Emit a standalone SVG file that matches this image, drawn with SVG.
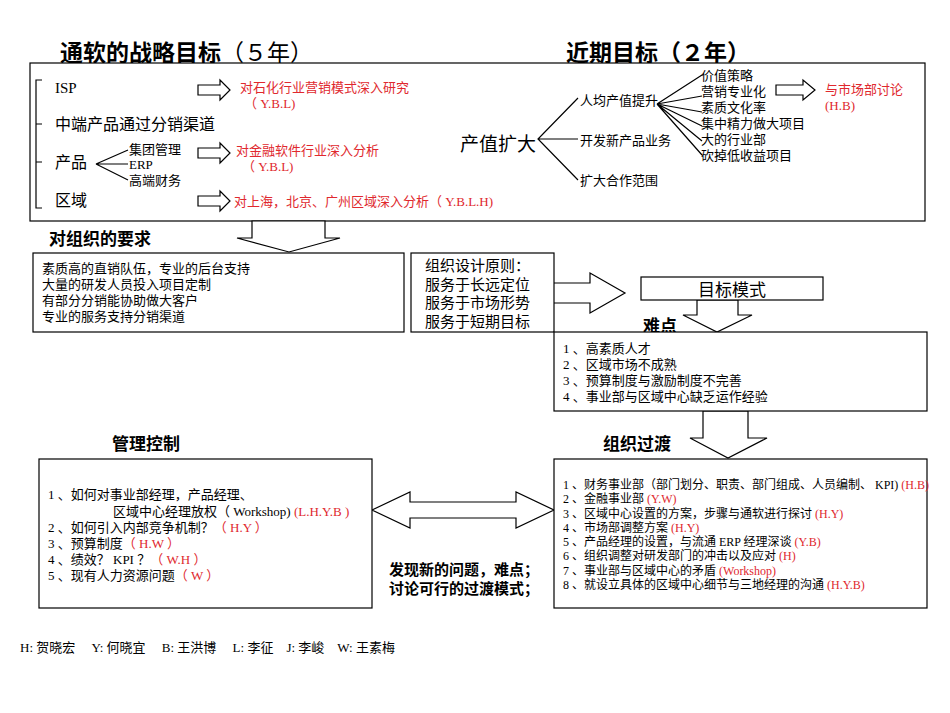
<svg xmlns="http://www.w3.org/2000/svg" width="950" height="713" viewBox="0 0 950 713">
<style>
text{font-family:"Liberation Serif","Noto Sans CJK SC",serif;fill:#000}
.t{font-family:"Liberation Sans","Noto Sans CJK SC",sans-serif;font-weight:bold}
.r{fill:#e0282e}
.s13{font-size:13px}.s14{font-size:14px}.s15{font-size:15px}
.box{fill:#fff;stroke:#000;stroke-width:1.2}
.ln{stroke:#000;stroke-width:1.2;fill:none}
.ar{fill:#fff;stroke:#000;stroke-width:1.2}
</style>
<rect width="950" height="713" fill="#fff"/>
<g id="titles">
<text x="60" y="61" class="t" font-size="23">通软的战略目标<tspan font-weight="normal">（５年）</tspan></text>
<text x="566" y="61" class="t" font-size="23">近期目标（２年）</text>
</g>
<g id="top">
<rect class="box" x="30" y="63" width="895" height="158"/>
<path class="ln" d="M42,80H36V208H42M36,124H42M36,162H42"/>
<text x="55" y="93" class="s15">ISP</text>
<text x="55" y="130" font-size="16">中端产品通过分销渠道</text>
<text x="55" y="168" font-size="16">产品</text>
<text x="55" y="206" font-size="16">区域</text>
<path class="ln" d="M128,150L96,164L128,164M96,164L128,180"/>
<text x="129" y="154" class="s13">集团管理</text>
<text x="129" y="169" class="s13">ERP</text>
<text x="129" y="185" class="s13">高端财务</text>
<path class="ar" d="M198,85H220V80L230,90L220,100V95H198Z"/>
<path class="ar" d="M198,148H220V143L230,153L220,163V158H198Z"/>
<path class="ar" d="M198,196H220V191L230,201L220,211V206H198Z"/>
<text x="240" y="92" class="s13 r">对石化行业营销模式深入研究</text>
<text x="244" y="108" class="s13 r">（ Y.B.L)</text>
<text x="236" y="155" class="s13 r">对金融软件行业深入分析</text>
<text x="242" y="171" class="s13 r">（ Y.B.L)</text>
<text x="234" y="206" class="s13 r">对上海，北京、广州区域深入分析（ Y.B.L.H)</text>
<text x="460" y="151" font-size="19">产值扩大</text>
<path class="ln" d="M578,98L538,139L578,180M538,139H578"/>
<text x="580" y="105" class="s13">人均产值提升</text>
<text x="580" y="145" class="s13">开发新产品业务</text>
<text x="580" y="185" class="s13">扩大合作范围</text>
<path class="ln" d="M657,104L702,75M657,104L702,96M657,104L702,112M657,104L702,126M657,104L702,141M657,104L702,155"/>
<text x="701" y="80" class="s13">价值策略</text>
<text x="701" y="96" class="s13">营销专业化</text>
<text x="701" y="112" class="s13">素质文化率</text>
<text x="701" y="128" class="s13">集中精力做大项目</text>
<text x="701" y="144" class="s13">大的行业部</text>
<text x="701" y="160" class="s13">砍掉低收益项目</text>
<path class="ar" d="M776,85H803V80L815,90L803,100V95H776Z"/>
<text x="825" y="94" class="s13 r">与市场部讨论</text>
<text x="825" y="110" class="s13 r">(H.B)</text>
</g>
<g id="connectors">
<path class="ar" d="M252,221H325V238H340L289,252L237,238H252Z"/>
<path class="ar" d="M530,283H590V273L625,293L590,313V303H530Z"/>
<path class="ar" d="M697,300H738V315H752L717,332L683,315H697Z"/>
<path class="ar" d="M703,411H748V438H767L728,458L690,438H703Z"/>
<path class="ar" d="M372,510L410,492V502H516V492L554,510L516,528V518H410V528Z"/>
</g>
<g id="req">
<text x="49" y="245" class="t" font-size="17">对组织的要求</text>
<rect class="box" x="33" y="253" width="371" height="79"/>
<text x="42" y="273" class="s13">素质高的直销队伍，专业的后台支持</text>
<text x="42" y="289" class="s13">大量的研发人员投入项目定制</text>
<text x="42" y="305" class="s13">有部分分销能协助做大客户</text>
<text x="42" y="321" class="s13">专业的服务支持分销渠道</text>
</g>
<g id="principle">
<rect class="box" x="411" y="253" width="143" height="79"/>
<text x="425" y="271" class="s15">组织设计原则：</text>
<text x="425" y="290" class="s15">服务于长远定位</text>
<text x="425" y="308" class="s15">服务于市场形势</text>
<text x="425" y="327" class="s15">服务于短期目标</text>
</g>
<g id="mode">
<rect class="box" x="641" y="277" width="182" height="23"/>
<text x="732" y="296" font-size="17" text-anchor="middle">目标模式</text>
</g>
<g id="difficulty">
<text x="643" y="332" class="t" font-size="17">难点</text>
<rect class="box" x="554" y="332" width="373" height="79"/>
<text x="563" y="353" class="s13">1 、高素质人才</text>
<text x="563" y="369" class="s13">2 、区域市场不成熟</text>
<text x="563" y="385" class="s13">3 、预算制度与激励制度不完善</text>
<text x="563" y="401" class="s13">4 、事业部与区域中心缺乏运作经验</text>
</g>
<g id="control">
<text x="112" y="450" class="t" font-size="17">管理控制</text>
<rect class="box" x="39" y="459" width="333" height="149"/>
<text x="48" y="499" class="s13">1 、如何对事业部经理，产品经理、</text>
<text x="113" y="516" class="s13">区域中心经理放权（ Workshop) <tspan class="r">(L.H.Y.B )</tspan></text>
<text x="48" y="532" class="s13">2 、如何引入内部竞争机制？<tspan class="r">（ H.Y ）</tspan></text>
<text x="48" y="548" class="s13">3 、预算制度<tspan class="r">（ H.W ）</tspan></text>
<text x="48" y="564" class="s13">4 、绩效？ KPI ？<tspan class="r">（ W.H ）</tspan></text>
<text x="48" y="580" class="s13">5 、现有人力资源问题<tspan class="r">（ W ）</tspan></text>
</g>
<g id="transition">
<text x="603" y="450" class="t" font-size="17">组织过渡</text>
<rect class="box" x="554" y="459" width="373" height="149"/>
<g font-size="12">
<text x="563" y="489">1 、财务事业部（部门划分、职责、部门组成、人员编制、 KPI) <tspan class="r">(H.B)</tspan></text>
<text x="563" y="503">2 、金融事业部 <tspan class="r">(Y.W)</tspan></text>
<text x="563" y="518">3 、区域中心设置的方案，步骤与通软进行探讨 <tspan class="r">(H.Y)</tspan></text>
<text x="563" y="532">4 、市场部调整方案 <tspan class="r">(H.Y)</tspan></text>
<text x="563" y="546">5 、产品经理的设置，与流通 ERP 经理深谈 <tspan class="r">(Y.B)</tspan></text>
<text x="563" y="560">6 、组织调整对研发部门的冲击以及应对 <tspan class="r">(H)</tspan></text>
<text x="563" y="575">7 、事业部与区域中心的矛盾 <tspan class="r">(Workshop)</tspan></text>
<text x="563" y="589">8 、就设立具体的区域中心细节与三地经理的沟通 <tspan class="r">(H.Y.B)</tspan></text>
</g>
</g>
<g id="discuss">
<text x="389" y="575" class="t" font-size="15">发现新的问题，难点；</text>
<text x="389" y="594" class="t" font-size="15">讨论可行的过渡模式；</text>
</g>
<g id="legend">
<text x="20" y="652" class="s13">H: 贺晓宏　 Y: 何晓宜　 B: 王洪博　 L: 李征　J: 李峻　W: 王素梅</text>
</g>
</svg>
